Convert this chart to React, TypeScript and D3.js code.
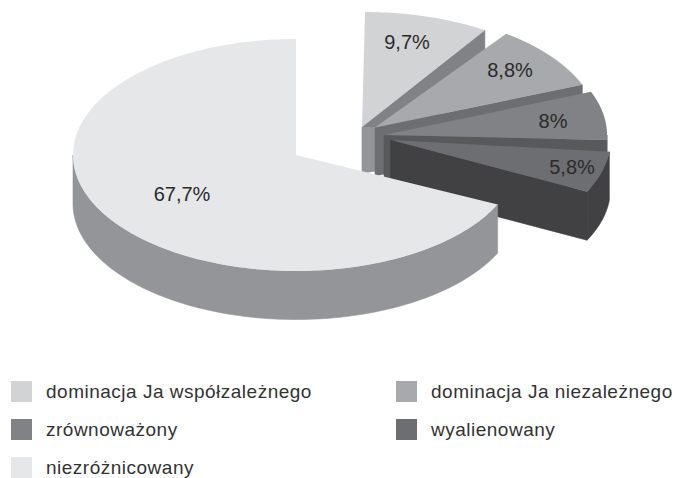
import React from "react";
import * as d3 from "d3";

const names = ["dominacja Ja współzależnego", "dominacja Ja niezależnego", "zrównoważony", "wyalienowany", "niezróżnicowany"];
const shares = [9.7, 8.8, 8, 5.8, 67.7];
const labels = ["9,7%", "8,8%", "8%", "5,8%", "67,7%"];
const topColors = ["#d1d3d4", "#a7a9ac", "#808285", "#6d6e71", "#e6e7e8"];
const endFaceColors = ["#808285", "#6d6e71", "#58595b", "#414042", "#939598"];
const columnColors = ["#939598", "#6d6e71", "#58595b", "#414042", "#939598"];
// arc centres, wedge apexes and small per-slice angle corrections (degrees)
const centersX = [365, 375, 384, 387.5, 296];
const centersY = [128, 127.5, 135, 140, 155];
const apexX = [362, 375, 384, 390.7, 296];
const apexY = [127, 127.5, 135, 140, 155];
const startTrim = [0, 1.1, 1.5, 0.4, -1];
const endTrim = [-2.4, 1.8, -2.9, 0.2, 0];
const labelX = [407, 510, 553, 572, 182];
const labelY = [42, 70, 121, 167, 194];
const legendX = [11, 396, 11, 396, 11];
const legendY = [381, 381, 419, 419, 457];

const rx = 223, ry = 116, depth = 48.5;
const pie = d3.pie<number>().sort(null).value(d => d);
const arcs = pie(shares);
const line = d3.line<[number, number]>();
const rad = Math.PI / 180;

export default function App() {
  const pt = (i: number, a: number, dz = 0): [number, number] => [
    centersX[i] + rx * Math.sin(a),
    centersY[i] - ry * Math.cos(a) + dz,
  ];
  const samples = (a0: number, a1: number) => {
    const n = Math.max(2, Math.ceil(Math.abs(a1 - a0) * 60));
    return d3.range(n + 1).map(k => a0 + ((a1 - a0) * k) / n);
  };
  return (
    <svg width={675} height={478} style={{ position: "absolute", left: 0, top: 0, background: "#fff" }} fontFamily="'Liberation Sans', Arial, sans-serif">
      {arcs.map((d, i) => {
        const c: [number, number] = [apexX[i], apexY[i]];
        const a0 = d.startAngle + startTrim[i] * rad;
        const a1 = d.endAngle + endTrim[i] * rad;
        const top = [c, ...samples(a0, a1).map(a => pt(i, a))] as [number, number][];
        const endFace = [c, pt(i, a1), pt(i, a1, depth), [c[0], c[1] + depth]] as [number, number][];
        const wa0 = Math.max(a0, Math.PI / 2);
        const wa1 = Math.min(a1, Math.PI * 1.5);
        const wall = wa1 > wa0
          ? ([...samples(wa0, wa1).map(a => pt(i, a)), ...samples(wa1, wa0).map(a => pt(i, a, depth))] as [number, number][])
          : null;
        const nextX = i < 3 ? apexX[i + 1] : c[0];
        const column = [c, [nextX, c[1]], [nextX, c[1] + depth - 4], [c[0], c[1] + depth - 2]] as [number, number][];
        const isMain = i === 4;
        return (
          <g key={names[i]}>
            {!isMain && <path d={line(endFace)! + "Z"} fill={endFaceColors[i]} stroke={endFaceColors[i]} strokeWidth={0.6} />}
            {!isMain && i < 3 && <path d={line(column)! + "Z"} fill={columnColors[i]} />}
            {wall && <path d={line(wall)! + "Z"} fill={endFaceColors[i]} stroke={endFaceColors[i]} strokeWidth={0.6} />}
            <path d={line(top)! + "Z"} fill={topColors[i]} />
          </g>
        );
      })}
      {labels.map((t, i) => (
        <text key={t} x={labelX[i]} y={labelY[i]} textAnchor="middle" dominantBaseline="central" fontSize={20} fill="#2b2b2b">{t}</text>
      ))}
      {names.map((n, i) => (
        <g key={n}>
          <rect x={legendX[i]} y={legendY[i]} width={21} height={21} fill={topColors[i]} />
          <text x={legendX[i] + 35} y={legendY[i] + 16.5} fontSize={19} letterSpacing={0.5} fill="#333">{n}</text>
        </g>
      ))}
    </svg>
  );
}
